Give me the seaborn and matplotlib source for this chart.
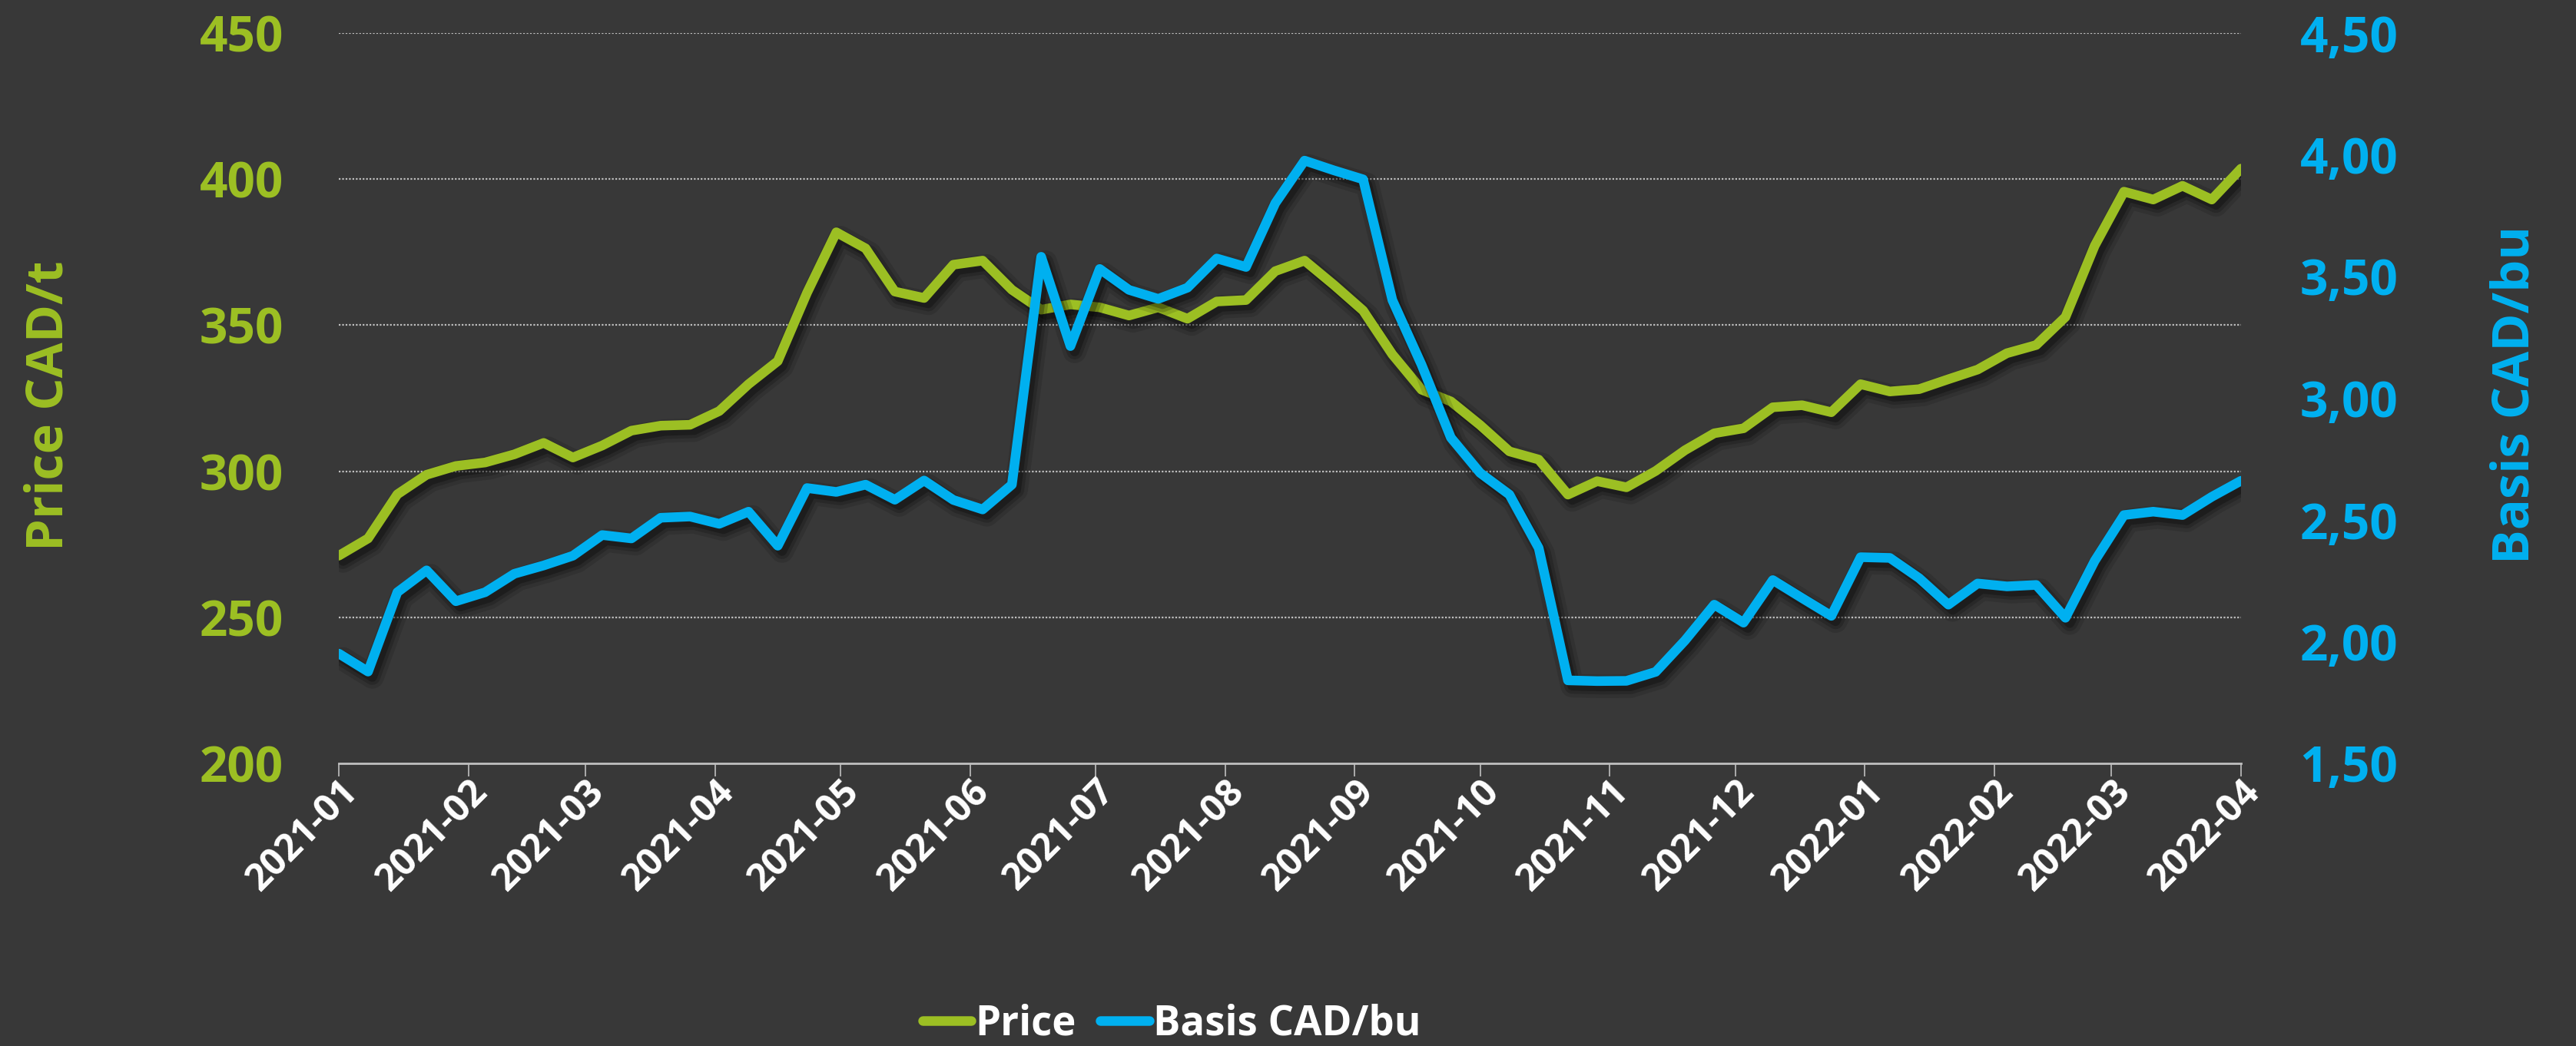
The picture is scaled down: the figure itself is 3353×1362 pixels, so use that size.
import matplotlib
matplotlib.use("Agg")
import matplotlib.pyplot as plt
import matplotlib.dates as mdates
import matplotlib.patheffects as pe
from matplotlib.ticker import FixedLocator, FuncFormatter
from matplotlib.lines import Line2D
import seaborn as sns
import pandas as pd

# ---- data (weekly observations) ----
dates = pd.date_range("2021-01-01", periods=66, freq="7D")
price = [271.1, 277.0, 292.1, 298.8, 301.8, 303.0, 305.8, 309.7, 304.7, 308.8,
         313.9, 315.6, 315.9, 320.6, 329.8, 337.7, 361.1, 381.8, 376.3, 361.5,
         359.3, 370.7, 372.1, 362.1, 355.3, 357.1, 356.1, 353.3, 356.1, 352.2,
         358.1, 358.6, 368.5, 372.1, 363.8, 355.0, 340.0, 327.9, 323.9, 315.8,
         306.8, 304.0, 292.0, 296.6, 294.5, 300.1, 307.2, 313.0, 314.7, 321.9,
         322.6, 320.2, 329.8, 327.3, 328.1, 331.5, 334.8, 340.4, 343.2, 352.8,
         377.2, 395.7, 393.0, 397.7, 393.0, 403.6]
basis = [1.951, 1.877, 2.203, 2.293, 2.166, 2.203, 2.279, 2.313, 2.353, 2.438,
         2.424, 2.509, 2.514, 2.484, 2.534, 2.394, 2.631, 2.615, 2.645, 2.583,
         2.662, 2.582, 2.543, 2.645, 3.581, 3.214, 3.531, 3.445, 3.408, 3.454,
         3.574, 3.539, 3.801, 3.976, 3.936, 3.899, 3.403, 3.137, 2.838, 2.693,
         2.604, 2.385, 1.841, 1.838, 1.839, 1.876, 2.005, 2.152, 2.078, 2.253,
         2.179, 2.106, 2.347, 2.344, 2.261, 2.152, 2.239, 2.227, 2.233, 2.098,
         2.332, 2.520, 2.534, 2.520, 2.595, 2.661]
month_ticks = pd.date_range("2021-01-01", "2022-04-01", freq="MS")
price_ticks = [200, 250, 300, 350, 400, 450]
basis_ticks = [1.5, 2.0, 2.5, 3.0, 3.5, 4.0, 4.5]
series_names = ["Price", "Basis CAD/bu"]

df = pd.DataFrame({"date": dates, "price": price, "basis": basis})

BG = "#383838"
GREEN = "#9CBF23"
BLUE = "#00B0F0"
GRID = "#BFBFBF"
FONT = ["Open Sans", "DejaVu Sans"]

sns.set_theme(style="dark")
plt.rcParams["font.family"] = FONT
plt.rcParams["font.weight"] = "bold"
plt.rcParams["axes.labelweight"] = "bold"

fig = plt.figure(figsize=(33.53, 13.62), dpi=100, facecolor=BG)
ax = fig.add_axes([441 / 3353, 1 - 994 / 1362, (2917 - 441) / 3353, (994 - 43) / 1362])
ax.set_facecolor(BG)
ax2 = ax.twinx()

shadow = [
    pe.SimpleLineShadow(offset=(4, -5), shadow_color="black", alpha=0.12, linewidth=22),
    pe.SimpleLineShadow(offset=(4, -5), shadow_color="black", alpha=0.18, linewidth=15),
    pe.SimpleLineShadow(offset=(4, -5), shadow_color="black", alpha=0.26, linewidth=9),
    pe.Normal(),
]

sns.lineplot(data=df, x="date", y="price", ax=ax, color=GREEN, linewidth=9,
             solid_joinstyle="round", solid_capstyle="round", legend=False,
             path_effects=shadow)
sns.lineplot(data=df, x="date", y="basis", ax=ax2, color=BLUE, linewidth=9,
             solid_joinstyle="round", solid_capstyle="round", legend=False,
             path_effects=shadow)

ax.set_xlim(month_ticks[0], month_ticks[-1])
ax.set_ylim(200, 450)
ax2.set_ylim(1.5, 4.5)

ax.yaxis.set_major_locator(FixedLocator(price_ticks))
ax2.yaxis.set_major_locator(FixedLocator(basis_ticks))
ax2.yaxis.set_major_formatter(FuncFormatter(lambda v, p: f"{v:.2f}".replace(".", ",")))

ax.xaxis.set_major_locator(FixedLocator(mdates.date2num(month_ticks)))
ax.xaxis.set_major_formatter(mdates.DateFormatter("%Y-%m"))

ax.grid(False)
ax2.grid(False)
for v in price_ticks[1:]:
    ax.axhline(v, color=GRID, linewidth=1.6, linestyle=(0, (1, 1)), zorder=0.5)

for a in (ax, ax2):
    for s in a.spines.values():
        s.set_visible(False)
ax.spines["bottom"].set_visible(True)
ax.spines["bottom"].set_color(GRID)
ax.spines["bottom"].set_linewidth(2)

ax.tick_params(axis="y", length=0, pad=52, labelsize=46, labelcolor=GREEN)
ax2.tick_params(axis="y", length=0, pad=55, labelsize=46, labelcolor=BLUE)
ax.tick_params(axis="x", length=12, width=1.2, color=GRID, direction="out",
               bottom=True, labelsize=35, labelcolor="white", pad=-3)
for lab in ax.get_yticklabels() + ax2.get_yticklabels():
    lab.set_fontweight("bold")
for lab in ax.get_xticklabels():
    lab.set_rotation(45)
    lab.set_ha("right")
    lab.set_rotation_mode("anchor")
    lab.set_fontweight("bold")

ax.set_xlabel("")
ax.set_ylabel("Price CAD/t", color=GREEN, fontsize=48, fontweight="bold")
ax2.set_ylabel("Basis CAD/bu", color=BLUE, fontsize=48, fontweight="bold")
ax.yaxis.set_label_coords((98 - 441) / (2917 - 441), 0.49)
ax2.yaxis.set_label_coords((3240 - 441) / (2917 - 441), 0.505)

handles = [Line2D([0], [0], color=GREEN, linewidth=9, solid_capstyle="round"),
           Line2D([0], [0], color=BLUE, linewidth=9, solid_capstyle="round")]
leg = fig.legend(handles, series_names, loc="center", bbox_to_anchor=(1525 / 3353, 29 / 1362),
                 ncol=2, frameon=False, fontsize=38, handlelength=1.2, handletextpad=0.1,
                 columnspacing=0.6, borderaxespad=0, borderpad=0)
for t in leg.get_texts():
    t.set_color("white")
    t.set_fontweight("bold")

fig.savefig("out.png", dpi=100, facecolor=BG)
